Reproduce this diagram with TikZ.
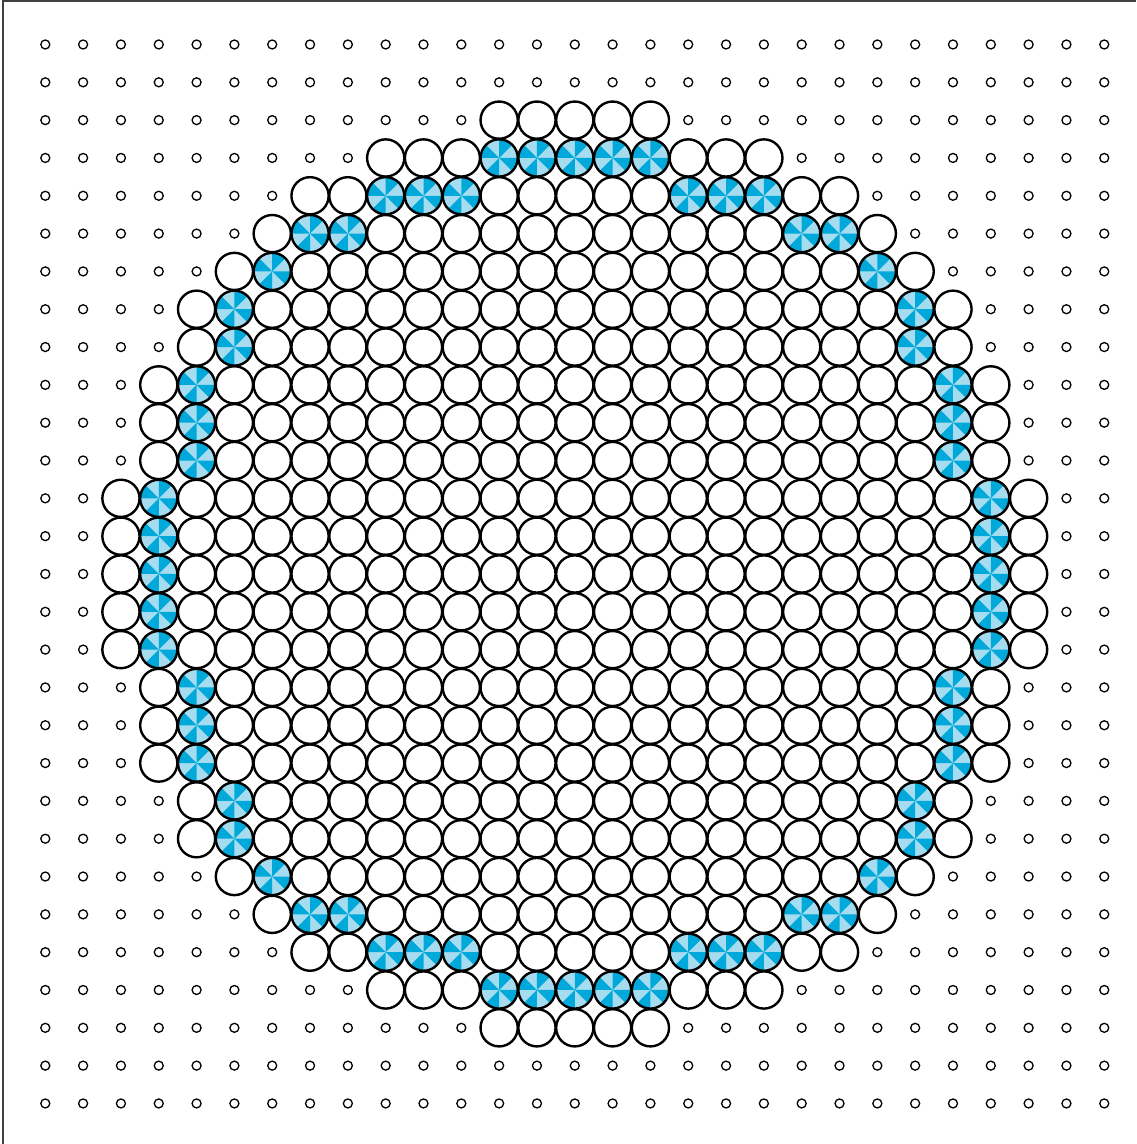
\documentclass[tikz,border=0pt]{standalone}
\definecolor{pdark}{HTML}{00A9D9}
\definecolor{plight}{HTML}{A6DCEF}
\begin{document}
\begin{tikzpicture}[x=1pt,y=1pt,
  smallring/.style={draw=black,line width=1.3pt},
  bigring/.style={draw=black,line width=2.4pt},
  framestyle/.style={draw=black!75,line width=1.3pt}]
\useasboundingbox (0,0) rectangle (1136,1144);
\draw[framestyle] (3,0) -- (3,1143) -- (1136,1143);
\def\rowspec{0/-1/99/99,1/-1/99/99,2/2/99/99,3/5/0/2,4/7/3/5,5/8/6/7,6/9/8/8,7/10/9/9,8/10/9/9,9/11/10/10,10/11/10/10,11/11/10/10,12/12/11/11,13/12/11/11,14/12/11/11,15/12/11/11,16/12/11/11,17/11/10/10,18/11/10/10,19/11/10/10,20/10/9/9,21/10/9/9,22/9/8/8,23/8/6/7,24/7/3/5,25/5/0/2,26/2/99/99,27/-1/99/99,28/-1/99/99}
% pass 1: pinwheel fills
\foreach \r/\e/\bl/\bh in \rowspec {
  \foreach \c in {0,...,28} {
    \pgfmathtruncatemacro\o{abs(\c-14)}
    \pgfmathsetmacro\px{45.3+37.82*\c}
    \pgfmathsetmacro\py{1144-44.5-37.82*\r}
    \ifnum\o>\e\relax\else
      \ifnum\o<\bl\relax\else
        \ifnum\o>\bh\relax\else
          \fill[plight] (\px,\py) circle[radius=18.6];
          \foreach \a in {45,135,225,315}
            \fill[pdark] (\px,\py) -- ++(\a:18.6) arc[start angle=\a,delta angle=45,radius=18.6] -- cycle;
        \fi
      \fi
    \fi
  }
}
% pass 2: outlines
\foreach \r/\e/\bl/\bh in \rowspec {
  \foreach \c in {0,...,28} {
    \pgfmathtruncatemacro\o{abs(\c-14)}
    \pgfmathsetmacro\px{45.3+37.82*\c}
    \pgfmathsetmacro\py{1144-44.5-37.82*\r}
    \ifnum\o>\e
      \draw[smallring] (\px,\py) circle[radius=4.5];
    \else
      \draw[bigring] (\px,\py) circle[radius=18.6];
    \fi
  }
}
\end{tikzpicture}
\end{document}
